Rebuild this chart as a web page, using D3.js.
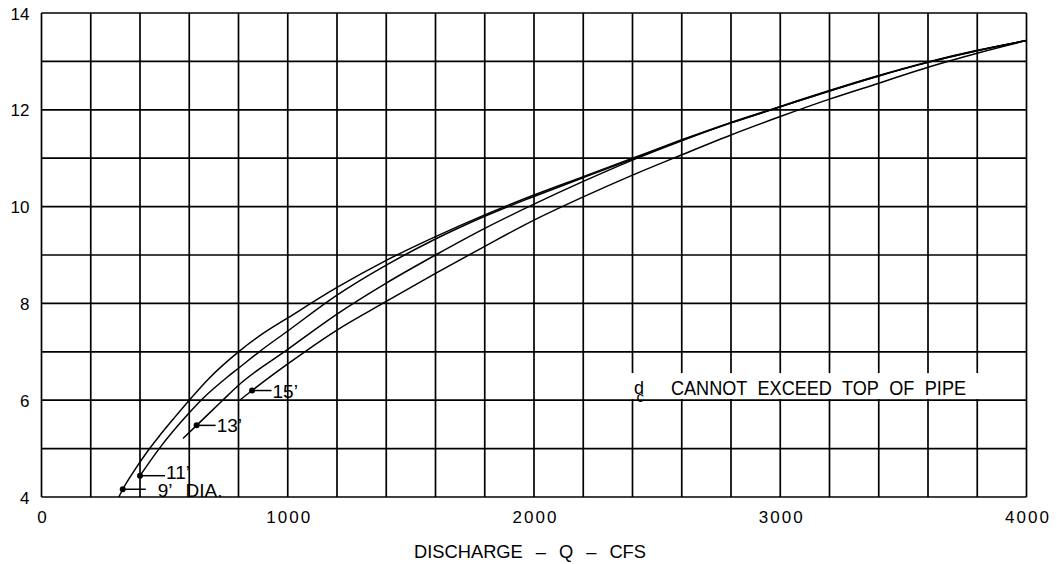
<!DOCTYPE html>
<html>
<head>
<meta charset="utf-8">
<script src="https://cdn.jsdelivr.net/npm/d3@7/dist/d3.min.js"></script>
<style>
  html, body { margin: 0; padding: 0; background: #fff; }
  svg { display: block; }
  text { font-family: "Liberation Sans", Arial, sans-serif; fill: #000; }
</style>
</head>
<body>
<svg id="chart" width="1057" height="564"></svg>
<script>
// ---------- DATA ----------
const xTickValues = [0, 1000, 2000, 3000, 4000];
const xTickLabels = ["0", "1000", "2000", "3000", "4000"];
const yTickValues = [4, 6, 8, 10, 12, 14];
const yTickLabels = ["4", "6", "8", "10", "12", "14"];

// critical depth dc (ft) vs discharge Q (cfs), one curve per pipe diameter
const q9  = [314, 330, 380, 430, 480, 540, 600, 680, 800, 900, 1000, 1200, 1400, 1600, 1800, 2000, 2200, 2400, 2600, 2800, 3000, 3200, 3400, 3600, 3800, 4000];
const dc9 = [4.0, 4.16, 4.57, 4.94, 5.27, 5.64, 6.0, 6.45, 7.0, 7.38, 7.7, 8.33, 8.89, 9.38, 9.83, 10.24, 10.62, 11.0, 11.38, 11.74, 12.07, 12.4, 12.71, 12.99, 13.23, 13.43];

const q11  = [400, 478, 600, 648, 755, 800, 884, 1000, 1200, 1400, 1600, 1800, 2000, 2200, 2400, 2600, 2800, 3000, 3200, 3400, 3600, 3800, 4000];
const dc11 = [4.44, 5.0, 5.74, 6.0, 6.48, 6.66, 7.0, 7.43, 8.17, 8.79, 9.33, 9.8, 10.21, 10.6, 10.98, 11.37, 11.73, 12.06, 12.39, 12.7, 12.98, 13.22, 13.43];

const q13  = [575, 630, 736, 800, 1000, 1200, 1400, 1600, 1800, 2000, 2200, 2400, 2600, 2800, 3000, 3200, 3400, 3600, 3800, 4000];
const dc13 = [5.21, 5.48, 6.0, 6.31, 7.05, 7.78, 8.42, 9.0, 9.55, 10.05, 10.52, 10.96, 11.36, 11.73, 12.06, 12.39, 12.7, 12.98, 13.22, 13.43];

const q15  = [805, 855, 1000, 1200, 1400, 1600, 1800, 2000, 2200, 2400, 2600, 2800, 3000, 3200, 3400, 3600, 3800, 4000];
const dc15 = [6.0, 6.2, 6.75, 7.45, 8.04, 8.62, 9.18, 9.72, 10.2, 10.65, 11.07, 11.48, 11.86, 12.22, 12.55, 12.88, 13.17, 13.43];

// labelled points on each curve
const markerQ  = [330, 400, 630, 855];
const markerDc = [4.16, 4.44, 5.48, 6.2];
const markerLabels = ["9’", "11’", "13’", "15’"];

const noteText = "CANNOT EXCEED TOP OF PIPE";
const xTitle = "DISCHARGE – Q – CFS";

// ---------- LAYOUT ----------
const W = 1057, H = 564;
const margin = { left: 41.5, right: 30.5, top: 13, bottom: 67 };
const svg = d3.select("#chart");

const x = d3.scaleLinear().domain([0, 4000]).range([margin.left, W - margin.right]);
const y = d3.scaleLinear().domain([4, 14]).range([H - margin.bottom, margin.top]);

const gridStroke = 1.7;

// vertical grid
svg.append("g").selectAll("line").data(x.ticks(20)).join("line")
  .attr("x1", d => x(d)).attr("x2", d => x(d))
  .attr("y1", y(4)).attr("y2", y(14))
  .attr("stroke", "#000").attr("stroke-width", gridStroke);

// white box behind the note
svg.append("rect")
  .attr("x", x(2290)).attr("width", x(3900) - x(2290))
  .attr("y", y(6.56)).attr("height", y(6) - y(6.56) - 1)
  .attr("fill", "#fff");

// horizontal grid
svg.append("g").selectAll("line").data(y.ticks(10)).join("line")
  .attr("x1", x(0)).attr("x2", x(4000))
  .attr("y1", d => y(d)).attr("y2", d => y(d))
  .attr("stroke", "#000").attr("stroke-width", gridStroke);

// axes (labels only)
const xAxis = d3.axisBottom(x).tickValues(xTickValues)
  .tickFormat((d, i) => xTickLabels[i]).tickSize(0).tickPadding(14.3);
const gx = svg.append("g").attr("transform", `translate(0,${y(4)})`).call(xAxis);
gx.select(".domain").remove();
gx.selectAll("text").attr("font-size", 17).attr("letter-spacing", "2px")
  .attr("dx", "1px")
  .style("font-family", '"Liberation Sans", Arial, sans-serif');

const yAxis = d3.axisLeft(y).tickValues(yTickValues)
  .tickFormat((d, i) => yTickLabels[i]).tickSize(0).tickPadding(12);
const gy = svg.append("g").attr("transform", `translate(${x(0)},0)`).call(yAxis);
gy.select(".domain").remove();
gy.selectAll("text").attr("font-size", 17).attr("dy", "0.36em")
  .style("font-family", '"Liberation Sans", Arial, sans-serif');

// curves
const series = [[q9, dc9], [q11, dc11], [q13, dc13], [q15, dc15]];
const line = d3.line().x(d => x(d[0])).y(d => y(d[1])).curve(d3.curveMonotoneX);
svg.append("g").selectAll("path").data(series).join("path")
  .attr("d", s => line(s[0].map((q, i) => [q, s[1][i]])))
  .attr("fill", "none").attr("stroke", "#000").attr("stroke-width", 1.5);

// markers, leaders and labels
const leaderLen = [23, 25, 19, 19.5];
const labelGap = [12, 1, 1, 1];
const labelDy = [8, 3.5, 7, 7.5];
const mk = svg.append("g");
markerQ.forEach((q, i) => {
  const px = x(q), py = y(markerDc[i]);
  mk.append("circle").attr("cx", px).attr("cy", py).attr("r", 3).attr("fill", "#000");
  mk.append("line").attr("x1", px).attr("x2", px + leaderLen[i])
    .attr("y1", py).attr("y2", py).attr("stroke", "#000").attr("stroke-width", 1.5);
  const t = mk.append("text").attr("x", px + leaderLen[i] + labelGap[i])
    .attr("y", py + labelDy[i]).attr("font-size", 19).text(markerLabels[i]);
  if (i === 0) t.append("tspan").attr("dx", 13).text("DIA.");
});

// note: dc CANNOT EXCEED TOP OF PIPE  (d with subscript c in one text)
const dcText = svg.append("text").attr("x", 634).attr("y", 394).attr("font-size", 18);
dcText.append("tspan").text("d");
dcText.append("tspan").attr("dx", -7.5).attr("dy", 8).attr("font-size", 15).text("c");
svg.append("text").attr("x", 671).attr("y", 395).attr("font-size", 19.5)
  .attr("word-spacing", "6px")
  .attr("textLength", 295).attr("lengthAdjust", "spacingAndGlyphs")
  .text(noteText);

// x axis title
svg.append("text").attr("x", 414).attr("y", 558.3).attr("font-size", 18.5)
  .attr("textLength", 232).attr("lengthAdjust", "spacingAndGlyphs")
  .attr("word-spacing", "8px")
  .text(xTitle);
</script>
</body>
</html>
